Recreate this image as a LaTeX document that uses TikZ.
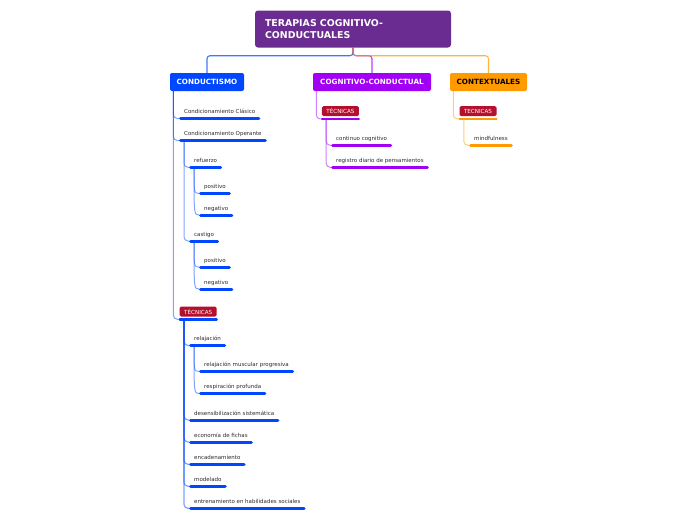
\documentclass[tikz,border=0pt]{standalone}
\usepackage{fontspec}
\setmainfont{DejaVu Sans}
\definecolor{mapRoot}{HTML}{6A2C90}
\definecolor{mapBlue}{HTML}{0047FF}
\definecolor{mapPurple}{HTML}{A100F5}
\definecolor{mapOrange}{HTML}{FF9A00}
\definecolor{mapRed}{HTML}{B50F2E}
\definecolor{mapText}{HTML}{2A2A2A}

\tikzset{
  root/.style={fill=mapRoot, rounded corners=3pt, text=white, align=left,
    font=\bfseries\fontsize{9.4}{11.5}\selectfont, text width=176pt,
    minimum width=196pt, minimum height=37pt, inner xsep=10pt},
  topic/.style={rounded corners=2pt, minimum height=18pt, inner sep=0pt,
    font=\bfseries\fontsize{7.2}{8}\selectfont, text=white},
  leaf/.style={anchor=south west, inner xsep=5pt, inner ysep=4.5pt, text depth=0pt,
    text=mapText, font=\fontsize{5.5}{6}\selectfont,
    append after command={\pgfextra{\draw[line width=3pt, line cap=round,
      shorten <=1.5pt, shorten >=1.5pt, #1]
      (\tikzlastnode.south west) -- (\tikzlastnode.south east);}}},
  leaf/.default=mapBlue,
  tec/.style={anchor=south west, fill=mapRed, text=white, rounded corners=1.5pt,
    minimum height=10pt, inner xsep=4.5pt, inner ysep=0pt,
    font=\fontsize{5.6}{6}\selectfont,
    append after command={\pgfextra{\draw[line width=2.5pt, line cap=round,
      shorten <=1.25pt, shorten >=1.25pt, #1]
      ([shift={(-1pt,-2.6pt)}]\tikzlastnode.south west) --
      ([shift={(1pt,-2.6pt)}]\tikzlastnode.south east);}}},
  link/.style={draw=#1, draw opacity=0.5, line width=1pt, rounded corners=4pt},
  trunk/.style={draw=#1, draw opacity=0.75, line width=1.1pt, rounded corners=3pt}
}

\begin{document}
\begin{tikzpicture}[x=1pt, y=-1pt]
  \useasboundingbox (0,0) rectangle (696,520);

  % main topics
  \node[root] (root) at (353,29) {TERAPIAS COGNITIVO-\\CONDUCTUALES};
  \node[topic, fill=mapBlue, minimum width=74pt] (cond) at (207,82) {CONDUCTISMO};
  \node[topic, fill=mapPurple, minimum width=118pt] (cog) at (372,82) {COGNITIVO-CONDUCTUAL};
  \node[topic, fill=mapOrange, minimum width=77pt, text=black] (ctx) at (488.5,82) {CONTEXTUALES};

  \draw[trunk=mapBlue] (root.south) -- ++(0,8) -| (cond.north);
  \draw[trunk=mapPurple] (root.south) -- ++(0,8) -| (cog.north);
  \draw[trunk=mapOrange] (root.south) -- ++(0,8) -| (ctx.north);

  % conductismo
  \node[leaf] (clas) at (179,118.5) {Condicionamiento Clásico};
  \node[leaf] (oper) at (179,140.5) {Condicionamiento Operante};
  \node[leaf] (ref) at (189,167.3) {refuerzo};
  \node[leaf] (pos1) at (199,193.3) {positivo};
  \node[leaf] (neg1) at (199,215) {negativo};
  \node[leaf] (cast) at (189,241) {castigo};
  \node[leaf] (pos2) at (199,267) {positivo};
  \node[leaf] (neg2) at (199,289) {negativo};
  \node[tec=mapBlue] (tcond) at (179.5,316.7) {TÉCNICAS};
  \node[leaf] (rel) at (189,345.5) {relajación};
  \node[leaf] (rmp) at (199,371.3) {relajación muscular progresiva};
  \node[leaf] (resp) at (199,393.5) {respiración profunda};
  \node[leaf] (desen) at (189,420) {desensibilización sistemática};
  \node[leaf] (econ) at (189,442) {economía de fichas};
  \node[leaf] (enc) at (189,464.3) {encadenamiento};
  \node[leaf] (mod) at (189,486.3) {modelado};
  \node[leaf] (ehs) at (189,508.3) {entrenamiento en habilidades sociales};

  \coordinate (cond-o) at ([xshift=3.5pt]cond.south west);
  \draw[link=mapBlue] (cond-o) |- (clas.south west);
  \draw[link=mapBlue] (cond-o) |- (oper.south west);
  \draw[link=mapBlue] (cond-o) |- ([shift={(-1pt,-2.6pt)}]tcond.south west);

  \coordinate (oper-o) at ([xshift=5pt]oper.south west);
  \draw[link=mapBlue] (oper-o) |- (ref.south west);
  \draw[link=mapBlue] (oper-o) |- (cast.south west);

  \coordinate (ref-o) at ([xshift=5pt]ref.south west);
  \draw[link=mapBlue] (ref-o) .. controls (ref-o |- pos1.south west) .. (pos1.south west);
  \draw[link=mapBlue] (ref-o) .. controls (ref-o |- neg1.south west) .. (neg1.south west);
  \coordinate (cast-o) at ([xshift=5pt]cast.south west);
  \draw[link=mapBlue] (cast-o) .. controls (cast-o |- pos2.south west) .. (pos2.south west);
  \draw[link=mapBlue] (cast-o) .. controls (cast-o |- neg2.south west) .. (neg2.south west);

  \coordinate (tcond-o) at ([shift={(4.5pt,-2.6pt)}]tcond.south west);
  \foreach \n in {rel,desen,econ,enc,mod,ehs}
    \draw[link=mapBlue, line width=1.2pt] (tcond-o) |- (\n.south west);
  \coordinate (rel-o) at ([xshift=5pt]rel.south west);
  \draw[link=mapBlue] (rel-o) .. controls (rel-o |- rmp.south west) .. (rmp.south west);
  \draw[link=mapBlue] (rel-o) .. controls (rel-o |- resp.south west) .. (resp.south west);

  % cognitivo-conductual
  \node[tec=mapPurple] (tcog) at (321.7,116.3) {TÉCNICAS};
  \node[leaf=mapPurple] (cont) at (331,145.3) {continuo cognitivo};
  \node[leaf=mapPurple] (reg) at (331,167.3) {registro diario de pensamientos};

  \coordinate (cog-o) at ([xshift=3.5pt]cog.south west);
  \draw[link=mapPurple] (cog-o) |- ([shift={(-1pt,-2.6pt)}]tcog.south west);
  \coordinate (tcog-o) at ([shift={(4.5pt,-2.6pt)}]tcog.south west);
  \draw[link=mapPurple] (tcog-o) |- (cont.south west);
  \draw[link=mapPurple] (tcog-o) |- (reg.south west);

  % contextuales
  \node[tec=mapOrange] (tctx) at (459.3,116.3) {TECNICAS};
  \node[leaf=mapOrange] (mind) at (469,145.3) {mindfulness};

  \coordinate (ctx-o) at ([xshift=3.5pt]ctx.south west);
  \draw[link=mapOrange] (ctx-o) |- ([shift={(-1pt,-2.6pt)}]tctx.south west);
  \coordinate (tctx-o) at ([shift={(4.5pt,-2.6pt)}]tctx.south west);
  \draw[link=mapOrange] (tctx-o) |- (mind.south west);
\end{tikzpicture}
\end{document}
